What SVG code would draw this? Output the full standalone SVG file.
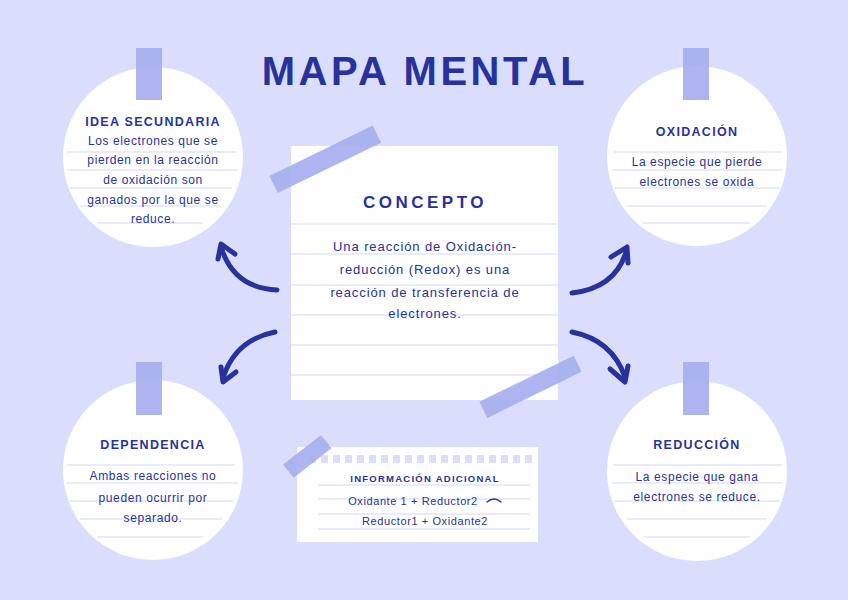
<svg xmlns="http://www.w3.org/2000/svg" width="848" height="600" viewBox="0 0 848 600">
<style>
.bg{fill:#dadefc}
.card{fill:#ffffff}
.tape{fill:#a9b0ee;opacity:0.95}
.rule{stroke:#e0e4f8;stroke-width:1.5;fill:none}
.t{font-family:"Liberation Sans",Arial,sans-serif;fill:#27329b;text-anchor:middle}
.title{font-size:40px;font-weight:bold;letter-spacing:3.5px}
.h{font-size:12.5px;font-weight:bold;letter-spacing:1.3px}
.b{font-size:12px;letter-spacing:0.6px}
.cb{font-size:13px;letter-spacing:0.9px}
.arr{stroke:#27329b;stroke-width:5;fill:none;stroke-linecap:round;stroke-linejoin:round}
.hole{fill:#dadefc}
</style>
<rect class="bg" x="0" y="0" width="848" height="600"/>
<text class="t title" x="425" y="85">MAPA MENTAL</text>

<g id="concepto">
  <rect class="card" x="291" y="146" width="267" height="254"/>
  <g class="rule">
    <line x1="291" y1="224" x2="558" y2="224"/>
    <line x1="291" y1="254" x2="558" y2="254"/>
    <line x1="291" y1="285" x2="558" y2="285"/>
    <line x1="291" y1="315" x2="558" y2="315"/>
    <line x1="291" y1="345" x2="558" y2="345"/>
    <line x1="291" y1="375" x2="558" y2="375"/>
  </g>
  <rect class="tape" x="268" y="150" width="115" height="19" transform="rotate(-26 325 160)"/>
  <rect class="tape" x="478" y="378" width="105" height="18" transform="rotate(-26 530 387)"/>
  <text class="t" x="425" y="208" style="font-size:17px;font-weight:bold;letter-spacing:3.5px">CONCEPTO</text>
  <text class="t cb" x="425" y="251">Una reacción de Oxidación-</text>
  <text class="t cb" x="425" y="274">reducción (Redox) es una</text>
  <text class="t cb" x="425" y="297">reacción de transferencia de</text>
  <text class="t cb" x="425" y="318">electrones.</text>
</g>

<g id="idea-secundaria">
  <circle class="card" cx="153" cy="157" r="90"/>
  <g class="rule">
    <line x1="66" y1="152" x2="236" y2="152"/>
    <line x1="67" y1="170" x2="238" y2="170"/>
    <line x1="70" y1="188" x2="232" y2="188"/>
    <line x1="80" y1="206" x2="220" y2="206"/>
    <line x1="97" y1="223" x2="203" y2="223"/>
  </g>
  <rect class="tape" x="136" y="48" width="26" height="52"/>
  <text class="t h" x="153" y="126">IDEA SECUNDARIA</text>
  <text class="t b" x="153" y="145">Los electrones que se</text>
  <text class="t b" x="153" y="164">pierden en la reacción</text>
  <text class="t b" x="153" y="184">de oxidación son</text>
  <text class="t b" x="153" y="204">ganados por la que se</text>
  <text class="t b" x="153" y="223">reduce.</text>
</g>

<g id="oxidacion">
  <circle class="card" cx="697" cy="156" r="90"/>
  <g class="rule">
    <line x1="613" y1="152" x2="782" y2="152"/>
    <line x1="612" y1="170" x2="783" y2="170"/>
    <line x1="614" y1="188" x2="780" y2="188"/>
    <line x1="627" y1="206" x2="767" y2="206"/>
    <line x1="643" y1="223" x2="750" y2="223"/>
  </g>
  <rect class="tape" x="683" y="48" width="26" height="52"/>
  <text class="t h" x="697" y="136">OXIDACIÓN</text>
  <text class="t b" x="697" y="166">La especie que pierde</text>
  <text class="t b" x="697" y="186">electrones se oxida</text>
</g>

<g id="dependencia">
  <circle class="card" cx="153" cy="470" r="90"/>
  <g class="rule">
    <line x1="67" y1="465" x2="235" y2="465"/>
    <line x1="66" y1="483" x2="238" y2="483"/>
    <line x1="70" y1="501" x2="233" y2="501"/>
    <line x1="80" y1="519" x2="222" y2="519"/>
    <line x1="97" y1="537" x2="203" y2="537"/>
  </g>
  <rect class="tape" x="136" y="362" width="26" height="53"/>
  <text class="t h" x="153" y="449">DEPENDENCIA</text>
  <text class="t b" x="153" y="480">Ambas reacciones no</text>
  <text class="t b" x="153" y="502">pueden ocurrir por</text>
  <text class="t b" x="153" y="522">separado.</text>
</g>

<g id="reduccion">
  <circle class="card" cx="697" cy="471" r="90"/>
  <g class="rule">
    <line x1="613" y1="465" x2="782" y2="465"/>
    <line x1="612" y1="483" x2="783" y2="483"/>
    <line x1="614" y1="501" x2="780" y2="501"/>
    <line x1="627" y1="519" x2="767" y2="519"/>
    <line x1="643" y1="537" x2="750" y2="537"/>
  </g>
  <rect class="tape" x="683" y="362" width="26" height="53"/>
  <text class="t h" x="697" y="449">REDUCCIÓN</text>
  <text class="t b" x="697" y="481">La especie que gana</text>
  <text class="t b" x="697" y="501">electrones se reduce.</text>
</g>

<g id="informacion-adicional">
  <rect class="card" x="297" y="447" width="241" height="95"/>
  <g class="hole">
    <rect x="309" y="455" width="7" height="8"/><rect x="321" y="455" width="7" height="8"/>
    <rect x="333" y="455" width="7" height="8"/><rect x="345" y="455" width="7" height="8"/>
    <rect x="357" y="455" width="7" height="8"/><rect x="369" y="455" width="7" height="8"/>
    <rect x="381" y="455" width="7" height="8"/><rect x="393" y="455" width="7" height="8"/>
    <rect x="405" y="455" width="7" height="8"/><rect x="417" y="455" width="7" height="8"/>
    <rect x="429" y="455" width="7" height="8"/><rect x="441" y="455" width="7" height="8"/>
    <rect x="453" y="455" width="7" height="8"/><rect x="465" y="455" width="7" height="8"/>
    <rect x="477" y="455" width="7" height="8"/><rect x="489" y="455" width="7" height="8"/>
    <rect x="501" y="455" width="7" height="8"/><rect x="513" y="455" width="7" height="8"/>
    <rect x="525" y="455" width="7" height="8"/>
  </g>
  <g class="rule">
    <line x1="318" y1="485" x2="530" y2="485"/>
    <line x1="318" y1="499" x2="530" y2="499"/>
    <line x1="318" y1="514" x2="530" y2="514"/>
    <line x1="318" y1="529" x2="530" y2="529"/>
  </g>
  <rect class="tape" x="283" y="448" width="48" height="17" transform="rotate(-38 307 456)"/>
  <text class="t" x="425" y="482" style="font-size:9.5px;font-weight:bold;letter-spacing:1.25px">INFORMACIÓN ADICIONAL</text>
  <text class="t" x="413" y="505" style="font-size:11px;letter-spacing:0.6px">Oxidante 1 + Reductor2</text>
  <path d="M487,502 Q494,496 501,502" stroke="#27329b" stroke-width="1.3" fill="none" stroke-linecap="round"/>
  <text class="t" x="425" y="525" style="font-size:11px;letter-spacing:0.6px">Reductor1 + Oxidante2</text>
</g>

<g id="connectors">
  <path class="arr" d="M277,290 Q235,288 222,250"/>
  <polyline class="arr" points="218,259 221,244 235,254"/>
  <path class="arr" d="M275,332 Q235,340 223,378"/>
  <polyline class="arr" points="221,367 223,382 236,372"/>
  <path class="arr" d="M572,293 Q615,288 626,252"/>
  <polyline class="arr" points="611,257 627,247 628,263"/>
  <path class="arr" d="M572,332 Q612,340 625,377"/>
  <polyline class="arr" points="610,369 625,382 628,366"/>
</g>
</svg>
